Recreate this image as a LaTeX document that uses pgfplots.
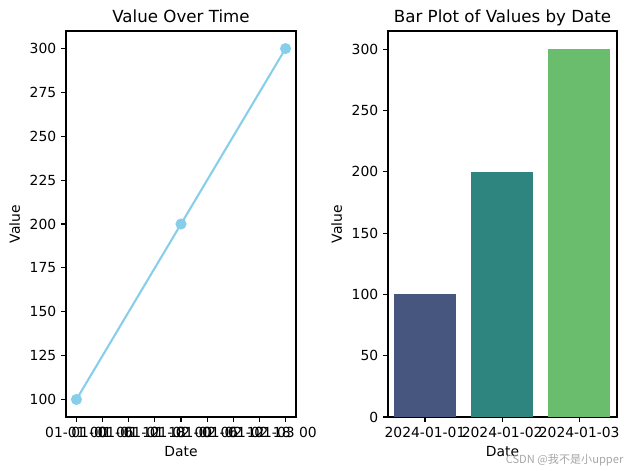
\documentclass[border=0pt]{standalone}
\usepackage{fontspec}
\setmainfont{DejaVu Sans}
\newfontfamily\cjk{Noto Sans CJK SC}
\usepackage{pgfplots}
\pgfplotsset{compat=1.18}
\definecolor{skyblue}{HTML}{87CEEB}
\definecolor{barA}{HTML}{46567F}
\definecolor{barB}{HTML}{2E8580}
\definecolor{barC}{HTML}{6BBD6E}
\begin{document}
\begin{tikzpicture}
\useasboundingbox (0pt,0pt) rectangle (452.88pt,338.4pt);
\pgfplotsset{
  every axis/.append style={
    scale only axis,
    width=165.6pt, height=277.9pt,
    axis line style={line width=0.8pt},
    tick align=outside,
    major tick length=3.5pt,
    every tick/.style={black, line width=0.8pt},
    xtick pos=left, ytick pos=left,
    tick label style={font=\fontsize{10}{12}\selectfont},
    label style={font=\fontsize{10}{12}\selectfont},
    title style={font=\fontsize{12}{14}\selectfont, at={(0.5,1)}, anchor=base, yshift=0.5pt, inner sep=0pt},
    /pgf/number format/assume math mode=true,
    clip=false,
  }
}
% Left: line plot
\begin{axis}[
  at={(47.52pt,38.16pt)}, anchor=south west,
  title={Value Over Time},
  xlabel={Date}, ylabel={Value},
  xmin=-0.1, xmax=2.1,
  ymin=90, ymax=310,
  xtick={0,0.25,0.5,0.75,1,1.25,1.5,1.75,2},
  xticklabels={01-01 00,01-01 06,01-01 12,01-01 18,01-02 00,01-02 06,01-02 12,01-02 18,01-03 00},
  ytick={100,125,150,175,200,225,250,275,300},
]
\addplot[color=skyblue, line width=1.5pt, mark=*, mark size=3.2pt, mark options={fill=skyblue, draw=skyblue}] coordinates {(0,100) (1,200) (2,300)};
\end{axis}
% Right: bar plot
\begin{axis}[
  at={(279.36pt,38.16pt)}, anchor=south west,
  width=164.9pt,
  title={Bar Plot of Values by Date},
  xlabel={Date}, ylabel={Value},
  xmin=-0.48, xmax=2.49,
  ymin=0, ymax=315,
  xtick={0,1,2},
  xticklabels={2024-01-01,2024-01-02,2024-01-03},
  ytick={0,50,100,150,200,250,300},
]
\addplot[ybar, bar width=0.8, bar shift=0pt, fill=barA, draw=none] coordinates {(0,100)};
\addplot[ybar, bar width=0.8, bar shift=0pt, fill=barB, draw=none] coordinates {(1,200)};
\addplot[ybar, bar width=0.8, bar shift=0pt, fill=barC, draw=none] coordinates {(2,300)};
\end{axis}
\node[anchor=south east, inner sep=0pt, text=black!35, font=\cjk\fontsize{8}{9}\selectfont] at (449pt,3pt) {CSDN @我不是小upper};
\end{tikzpicture}
\end{document}
